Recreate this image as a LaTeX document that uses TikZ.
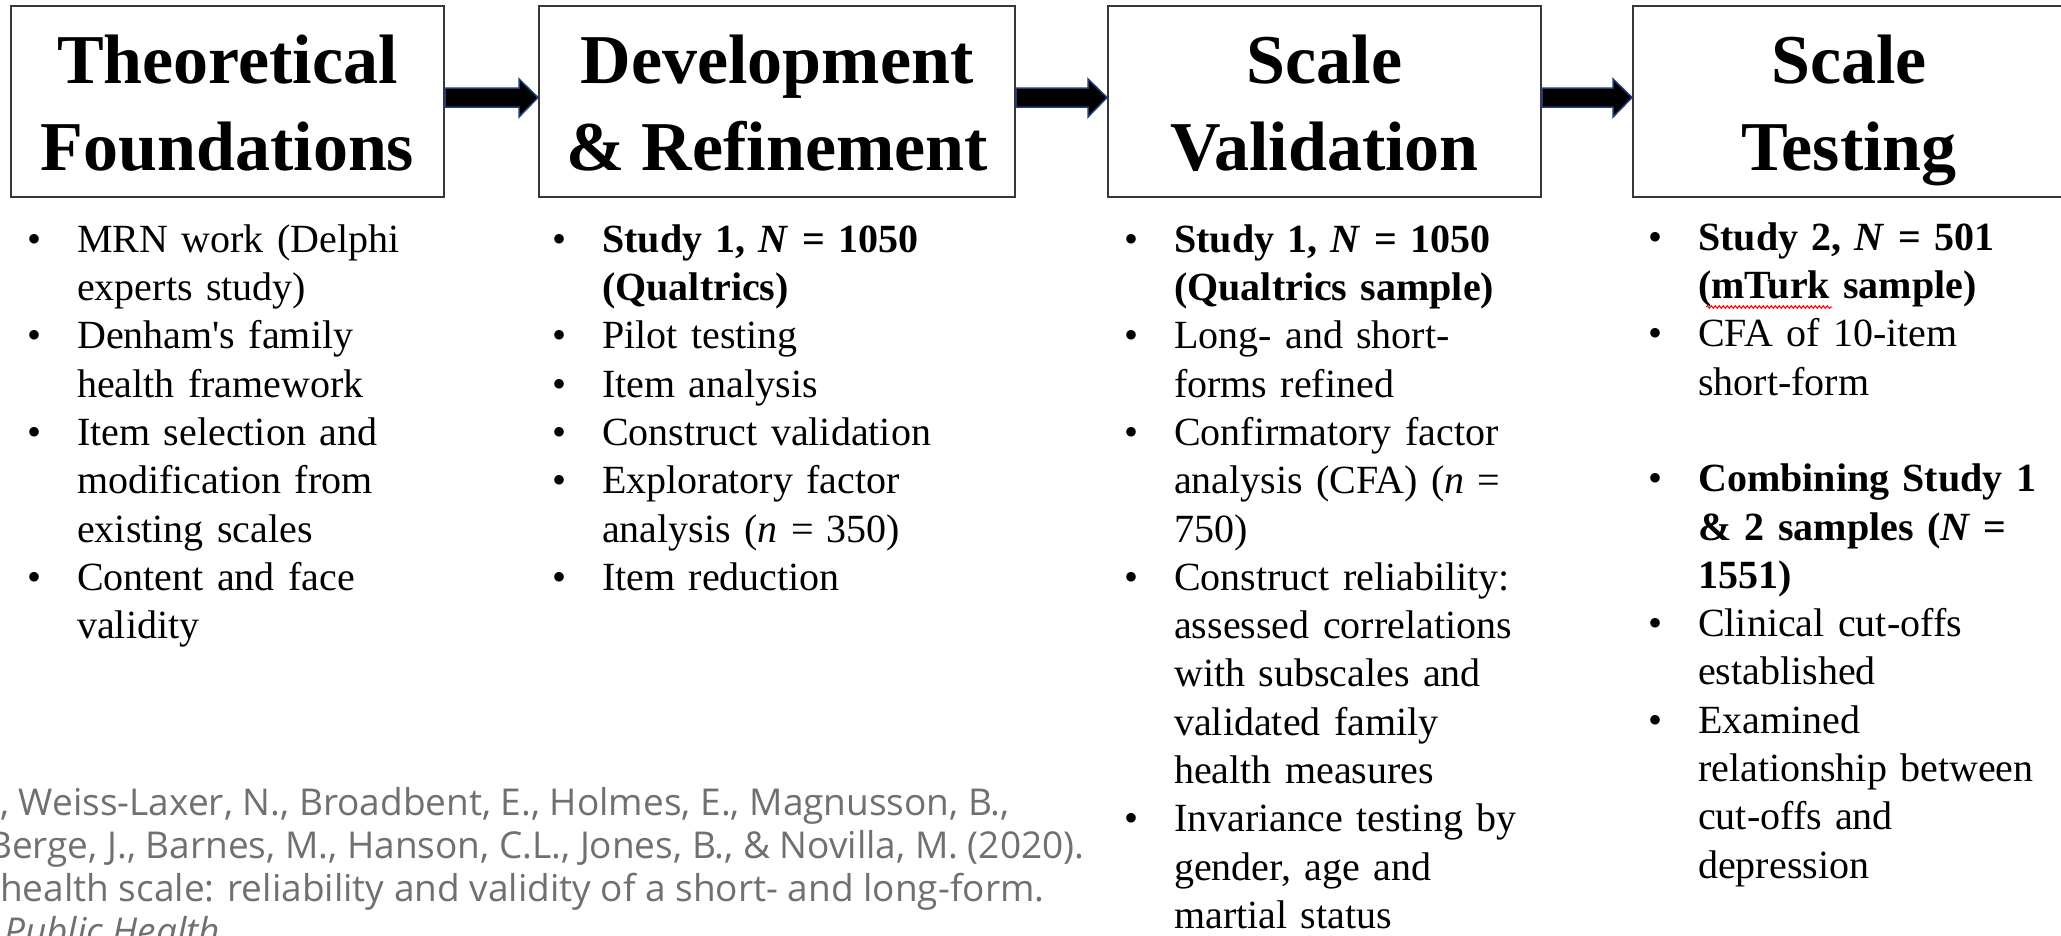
\documentclass[tikz,border=0pt]{standalone}
\usepackage{fontspec}
\setmainfont{Liberation Serif}
\newfontfamily\citefont{Open Sans}
\usetikzlibrary{decorations.pathmorphing}

\definecolor{boxgray}{RGB}{55,55,55}
\definecolor{arrowblue}{RGB}{35,60,125}
\definecolor{citegray}{RGB}{112,112,112}

\def\titlefont{\fontsize{70}{87}\selectfont\bfseries}
\def\bodyfont{\fontsize{40}{48.3}\selectfont}
\def\tup{\rule{0pt}{66pt}}
\def\tdown{\rule[-15pt]{0pt}{15pt}}
\newcommand{\bitem}[1]{\hangindent=50pt\hangafter=1\noindent\strut\makebox[50pt][l]{\textbullet}#1\par}

\begin{document}
\begin{tikzpicture}[x=1pt, y=-1pt]
    \tikzstyle{stage}=[draw=boxgray, line width=2pt, minimum width=433pt, minimum height=191pt, inner sep=0pt, align=center, font=\titlefont]
    \tikzstyle{bullets}=[anchor=north west, text width=470pt, inner sep=0pt, align=left, font=\bodyfont]
    \tikzstyle{cite}=[anchor=base west, inner sep=0pt, text=citegray, font=\citefont\fontsize{37}{43}\selectfont]
    \tikzstyle{fat arrow}=[fill=black, draw=arrowblue, line width=1.5pt]
    \tikzstyle{spell}=[red, line width=1pt, decorate, decoration={snake, amplitude=1.3pt, segment length=4pt}]

    \useasboundingbox (0,0) rectangle (2061,935);
    \clip (0,0) rectangle (2061,935);

    % the four stages
    \node[stage] (theo) at (227.5,101.5) {\tup Theoretical\\Foundations\tdown};
    \node[stage, minimum width=476pt] (dev) at (777,101.5) {\tup Development\\\& Refinement\tdown};
    \node[stage] (valid) at (1324.5,101.5) {\tup Scale\\Validation\tdown};
    \node[stage, minimum width=432pt] (test) at (1849,101.5) {\tup Scale\\Testing\tdown};

    \foreach \src/\dst in {theo/dev, dev/valid, valid/test}
        \filldraw[fat arrow] ([yshift=13.5pt]\src.east) -- ([xshift=-19pt,yshift=13.5pt]\dst.west)
            -- ([xshift=-19pt,yshift=22.5pt]\dst.west) -- ([yshift=4pt]\dst.west)
            -- ([xshift=-19pt,yshift=-15.5pt]\dst.west) -- ([xshift=-19pt,yshift=-5.5pt]\dst.west)
            -- ([yshift=-5.5pt]\src.east) -- cycle;

    % bullet lists under the stages
    \node[bullets] (list1) at (27,218.2) {%
        \bitem{MRN work (Delphi\newline experts study)}
        \bitem{Denham\textquotesingle s family\newline health framework}
        \bitem{Item selection and\newline modification from\newline existing scales}
        \bitem{Content and face\newline validity}};

    \node[bullets] (list2) at (552,218.2) {%
        \bitem{\textbf{Study 1, \textit{N} = 1050\newline (Qualtrics)}}
        \bitem{Pilot testing}
        \bitem{Item analysis}
        \bitem{Construct validation}
        \bitem{Exploratory factor\newline analysis (\textit{n} = 350)}
        \bitem{Item reduction}};

    \node[bullets] (list3) at (1124,218.2) {%
        \bitem{\textbf{Study 1, \textit{N} = 1050\newline (Qualtrics sample)}}
        \bitem{Long- and short-\newline forms refined}
        \bitem{Confirmatory factor\newline analysis (CFA) (\textit{n} =\newline 750)}
        \bitem{Construct reliability:\newline assessed correlations\newline with subscales and\newline validated family\newline health measures}
        \bitem{Invariance testing by\newline gender, age and\newline martial status}};

    \node[bullets] (list4) at (1648,216.2) {%
        \bitem{\textbf{Study 2, \textit{N} = 501\newline (mTurk sample)}}
        \bitem{CFA of 10-item\newline short-form}
        \noindent\strut\par
        \bitem{\textbf{Combining Study 1\newline \& 2 samples (\textit{N} =\newline 1551)}}
        \bitem{Clinical cut-offs\newline established}
        \bitem{Examined\newline relationship between\newline cut-offs and\newline depression}};

    \coordinate (mturkL) at (1706,307);
    \coordinate (mturkR) at (1832,307);
    \draw[spell] (mturkL) -- (mturkR);

    % citation behind the figure
    \node[cite] (cite1) at (0,815) {, Weiss-Laxer, N., Broadbent, E., Holmes, E., Magnusson, B.,};
    \node[cite] (cite2) at (-12,858) {Berge, J., Barnes, M., Hanson, C.L., Jones, B., \& Novilla, M. (2020).};
    \node[cite] (cite3) at (0,901) {health scale: reliability and validity of a short- and long-form.};
    \node[cite] (cite4) at (4,944) {\itshape Public Health};
\end{tikzpicture}
\end{document}
